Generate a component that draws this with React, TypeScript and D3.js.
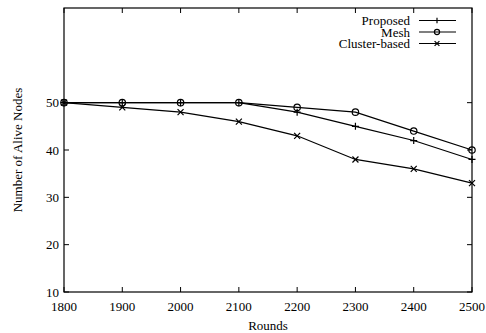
import React from "react";
import * as d3 from "d3";

const rounds = [1800, 1900, 2000, 2100, 2200, 2300, 2400, 2500];
const proposed = [50, 50, 50, 50, 48, 45, 42, 38];
const mesh = [50, 50, 50, 50, 49, 48, 44, 40];
const cluster = [50, 49, 48, 46, 43, 38, 36, 33];
const yTicks = [10, 20, 30, 40, 50];
const seriesNames = ["Proposed", "Mesh", "Cluster-based"];

const W = 486, H = 333;
const L = 64, R = 472, T = 8, B = 292;

function Marker({ kind, x, y, s = 1 }: { kind: string; x: number; y: number; s?: number }) {
  if (kind === "plus")
    return <path d={`M${x - 3.5 * s},${y}H${x + 3.5 * s}M${x},${y - 3.5 * s}V${y + 3.5 * s}`} stroke="#000" strokeWidth={1.2} />;
  if (kind === "circle")
    return <circle cx={x} cy={y} r={3.2 * s} fill="none" stroke="#000" strokeWidth={1.2} />;
  return <path d={`M${x - 3 * s},${y - 3 * s}L${x + 3 * s},${y + 3 * s}M${x - 3 * s},${y + 3 * s}L${x + 3 * s},${y - 3 * s}`} stroke="#000" strokeWidth={1.2} />;
}

export default function App() {
  const x = d3.scaleLinear().domain([1800, 2500]).range([L, R]);
  const y = d3.scaleLinear().domain([10, 70]).range([B, T]);
  const line = d3.line<number>().x((_, i) => x(rounds[i])).y((d) => y(d));
  const series = [
    { name: seriesNames[0], data: proposed, kind: "plus" },
    { name: seriesNames[1], data: mesh, kind: "circle" },
    { name: seriesNames[2], data: cluster, kind: "cross" },
  ];
  const font = "'Liberation Serif', 'Times New Roman', serif";
  const fs = 13;
  return (
    <svg width={W} height={H} style={{ position: "absolute", left: 0, top: 0 }} fontFamily={font}>
      <rect width={W} height={H} fill="#fff" />
      <rect x={L} y={T} width={R - L} height={B - T} fill="none" stroke="#000" strokeWidth={1.2} />
      {rounds.map((r) => (
        <g key={r}>
          <line x1={x(r)} x2={x(r)} y1={B} y2={B - 5} stroke="#000" />
          <line x1={x(r)} x2={x(r)} y1={T} y2={T + 5} stroke="#000" />
          <text x={x(r)} y={B + 19} textAnchor="middle" fontSize={fs}>{r}</text>
        </g>
      ))}
      {yTicks.map((t) => (
        <g key={t}>
          <line x1={L} x2={L + 5} y1={y(t)} y2={y(t)} stroke="#000" />
          <line x1={R} x2={R - 5} y1={y(t)} y2={y(t)} stroke="#000" />
          <text x={L - 5} y={y(t) + 4.5} textAnchor="end" fontSize={fs}>{t}</text>
        </g>
      ))}
      <text x={268} y={330} textAnchor="middle" fontSize={fs}>Rounds</text>
      <text transform={`translate(22,${(T + B) / 2}) rotate(-90)`} textAnchor="middle" fontSize={fs}>Number of Alive Nodes</text>
      {series.map((s) => (
        <g key={s.name}>
          <path d={line(s.data) || ""} fill="none" stroke="#000" strokeWidth={1.2} />
          {s.data.map((v, i) => (
            <Marker key={i} kind={s.kind} x={x(rounds[i])} y={y(v)} />
          ))}
        </g>
      ))}
      {series.map((s, i) => {
        const ly = 20.5 + i * 11.5;
        return (
          <g key={"lg" + s.name}>
            <text x={410} y={ly + 4.5} textAnchor="end" fontSize={fs}>{s.name}</text>
            <line x1={419} x2={456} y1={ly} y2={ly} stroke="#000" strokeWidth={1.2} />
            <Marker kind={s.kind} x={437} y={ly} s={0.8} />
          </g>
        );
      })}
    </svg>
  );
}
